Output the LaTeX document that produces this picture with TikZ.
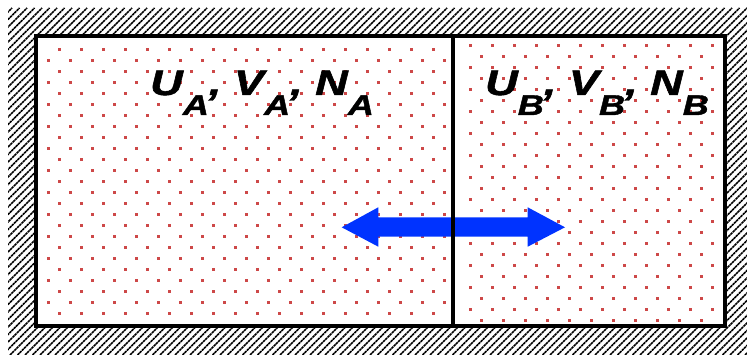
\documentclass[tikz,border=0pt]{standalone}
\usepackage{fontspec}
\setmainfont{Liberation Sans}
\newfontfamily\labfont[BoldItalicFeatures={FakeBold=1.3}]{Liberation Sans}
\definecolor{dotred}{RGB}{205,72,72}
\definecolor{arrowblue}{RGB}{0,51,255}
\newcommand\mysublab[1]{\raisebox{-20pt}{\fontsize{28.5}{30}\selectfont #1}}
\newcommand\mylab[1]{\scalebox{1.27}[1]{\labfont\fontsize{35.5}{40}\selectfont\bfseries\itshape U\mysublab{#1}, V\mysublab{#1}, N\mysublab{#1}}}
\begin{document}
\begin{tikzpicture}[x=1pt,y=-1pt,
  hatch/.style={line width=1.5pt,dash pattern=on 2.5pt off 0.6pt},
  wall/.style={line width=4pt},
  lab/.style={anchor=base west,inner sep=0pt}]
\useasboundingbox (0,0) rectangle (747,355);
% hatched wall
\begin{scope}
\clip (8,8) rectangle (747,355);
\foreach \i in {-350,-342.5,...,752} \draw[hatch] (\i,355) -- ++(347,-347);
\end{scope}
\fill[white] (36,36) rectangle (725,326);
% dots left compartment
\foreach \j in {0,...,24}{
  \pgfmathsetmacro\yy{49.5+11*\j}
  \pgfmathsetmacro\xo{ifthenelse(mod(\j,2)==0,15.5,4.5)}
  \foreach \k in {1,...,20}{
    \pgfmathsetmacro\xx{\xo+22*\k}
    \ifdim\xx pt>40pt\ifdim\xx pt<448pt
      \fill[dotred] (\xx-1.2,\yy-1.2) rectangle ++(2.4,2.4);
    \fi\fi
  }
}
% dots right compartment
\foreach \j in {0,...,25}{
  \pgfmathsetmacro\yy{45.5+11*\j}
  \pgfmathsetmacro\xo{ifthenelse(mod(\j,2)==0,8.5,19.5)}
  \foreach \k in {20,...,33}{
    \pgfmathsetmacro\xx{\xo+22*\k}
    \ifdim\xx pt>462pt\ifdim\xx pt<720pt
      \fill[dotred] (\xx-1.2,\yy-1.2) rectangle ++(2.4,2.4);
    \fi\fi
  }
}
% double arrow
\coordinate (tipL) at (341.7,227.3);
\coordinate (tipR) at (565,227.3);
\fill[arrowblue] (tipL) -- (378.3,207.3) -- (378.3,217.3) -- (527.7,217.3) -- (527.7,207.3) -- (tipR) -- (527.7,246.7) -- (527.7,236.7) -- (378.3,236.7) -- (378.3,246.7) -- cycle;
% box and divider
\draw[wall] (36,36) rectangle (725,326);
\draw[wall] (453,36) -- (453,326);
% labels
\node[lab] (labA) at (150,95) {\mylab{A}};
\node[lab] (labB) at (485,95) {\mylab{B}};
\end{tikzpicture}
\end{document}
